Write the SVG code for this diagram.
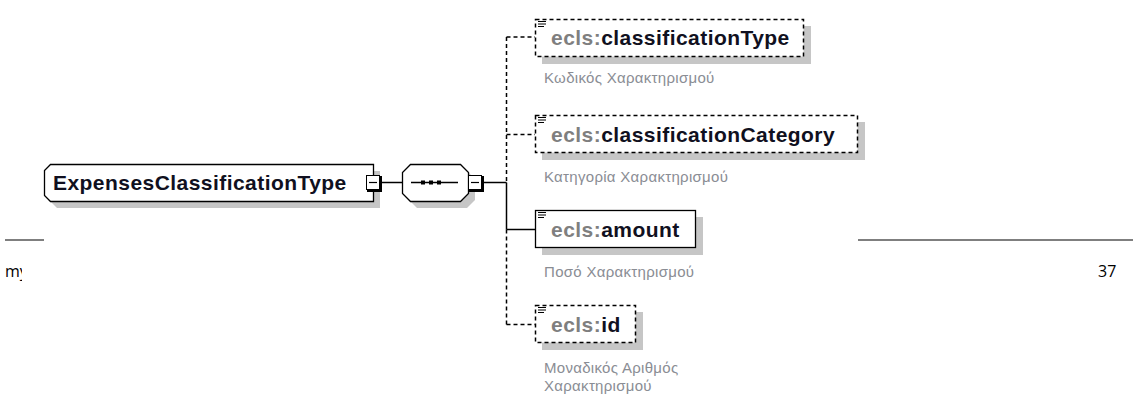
<svg xmlns="http://www.w3.org/2000/svg" width="1134" height="396" viewBox="0 0 1134 396">
<style>
.page{font-family:"Open Sans","Liberation Sans",sans-serif;font-size:16px;fill:#000}
.pline{stroke:#555;stroke-width:1.5}
.shadow{fill:#c6c6c6}
.box{fill:#fff;stroke:#000;stroke-width:1.3}
.dbox{fill:#fff;stroke:#000;stroke-width:1.5;stroke-dasharray:4 3}
.name{font-family:"Liberation Sans",Arial,sans-serif;font-size:21px;font-weight:bold;fill:#101020;letter-spacing:0.45px}
.pfx{fill:#7f7f7f}
.desc{font-family:"Liberation Sans",Arial,sans-serif;font-size:15px;fill:#8a8d94;letter-spacing:0.3px}
.conn{stroke:#000;stroke-width:1.5;fill:none}
.dconn{stroke:#000;stroke-width:1.5;fill:none;stroke-dasharray:4 3}
.icon{stroke:#000;stroke-width:1}
</style>
<defs>
<clipPath id="mclip"><rect x="0" y="250" width="22" height="40"/></clipPath>
<g id="btn">
<rect x="1" y="1" width="15" height="16" fill="#000"/>
<rect x="0.5" y="0.5" width="13" height="14" fill="#fff" stroke="#000" stroke-width="1"/>
<line x1="3" y1="7.5" x2="11" y2="7.5" stroke="#000" stroke-width="1.2"/>
</g>
<g id="eicon">
<line x1="0" y1="0.5" x2="8" y2="0.5" class="icon"/>
<line x1="0" y1="3" x2="8" y2="3" class="icon"/>
<line x1="0" y1="5.5" x2="6" y2="5.5" class="icon"/>
</g>
</defs>
<rect width="1134" height="396" fill="#fff"/>
<g id="page">
<line x1="5" y1="240" x2="44" y2="240" class="pline"/>
<line x1="858" y1="240" x2="1133" y2="240" class="pline"/>
<text x="5" y="277" class="page" clip-path="url(#mclip)">my</text>
<text x="1098" y="277" class="page">37</text>
</g>
<g id="connectors">
<line x1="380" y1="182.5" x2="402" y2="182.5" class="conn"/>
<line x1="482" y1="182.5" x2="506.5" y2="182.5" class="conn"/>
<line x1="506.5" y1="37" x2="506.5" y2="182.5" class="dconn"/>
<line x1="506.5" y1="182.5" x2="506.5" y2="229.5" class="conn"/>
<line x1="506.5" y1="229.5" x2="506.5" y2="324.5" class="dconn"/>
<line x1="506.5" y1="37" x2="535" y2="37" class="dconn"/>
<line x1="506.5" y1="134.5" x2="535" y2="134.5" class="dconn"/>
<line x1="506.5" y1="229.5" x2="535" y2="229.5" class="conn"/>
<line x1="506.5" y1="324.5" x2="535" y2="324.5" class="dconn"/>
</g>
<g id="node-root">
<polygon points="57,171 380,171 380,208 57,208 51,202 51,177" class="shadow"/>
<polygon points="50.5,164.5 373.5,164.5 373.5,201.5 50.5,201.5 44.5,195.5 44.5,170.5" class="box"/>
<text x="53" y="190" class="name">ExpensesClassificationType</text>
<use href="#btn" x="366" y="175"/>
</g>
<g id="node-sequence">
<polygon points="417,171 467,171 475,179 475,200 467,208 417,208 409,200 409,179" class="shadow"/>
<polygon points="410.5,164.5 460.5,164.5 468.5,172.5 468.5,193.5 460.5,201.5 410.5,201.5 402.5,193.5 402.5,172.5" class="box"/>
<line x1="411" y1="182.5" x2="458" y2="182.5" stroke="#000" stroke-width="1.3"/>
<rect x="421" y="180.5" width="4" height="4" fill="#000"/>
<rect x="429" y="180.5" width="4" height="4" fill="#000"/>
<rect x="437" y="180.5" width="4" height="4" fill="#000"/>
<use href="#btn" x="468" y="175"/>
</g>
<g id="node-classificationType">
<rect x="542" y="26" width="269" height="38" class="shadow"/>
<rect x="535.5" y="19.5" width="268" height="37" class="dbox"/>
<use href="#eicon" x="538" y="21"/>
<text x="551" y="45" class="name"><tspan class="pfx">ecls:</tspan>classificationType</text>
<text x="544" y="83" class="desc">Κωδικός Χαρακτηρισμού</text>
</g>
<g id="node-classificationCategory">
<rect x="542" y="122" width="323" height="38" class="shadow"/>
<rect x="535.5" y="115.5" width="322" height="37" class="dbox"/>
<use href="#eicon" x="538" y="117"/>
<text x="551" y="142" class="name"><tspan class="pfx">ecls:</tspan>classificationCategory</text>
<text x="544" y="182" class="desc">Κατηγορία Χαρακτηρισμού</text>
</g>
<g id="node-amount">
<rect x="542" y="217" width="161" height="38" class="shadow"/>
<rect x="535.5" y="210.5" width="160" height="37" class="box"/>
<use href="#eicon" x="538" y="212"/>
<text x="551" y="237" class="name"><tspan class="pfx">ecls:</tspan>amount</text>
<text x="544" y="277" class="desc">Ποσό Χαρακτηρισμού</text>
</g>
<g id="node-id">
<rect x="542" y="312" width="101" height="38" class="shadow"/>
<rect x="535.5" y="305.5" width="100" height="37" class="dbox"/>
<use href="#eicon" x="538" y="307"/>
<text x="551" y="332" class="name"><tspan class="pfx">ecls:</tspan>id</text>
<text x="544" y="373" class="desc">Μοναδικός Αριθμός</text>
<text x="544" y="391" class="desc">Χαρακτηρισμού</text>
</g>
</svg>
